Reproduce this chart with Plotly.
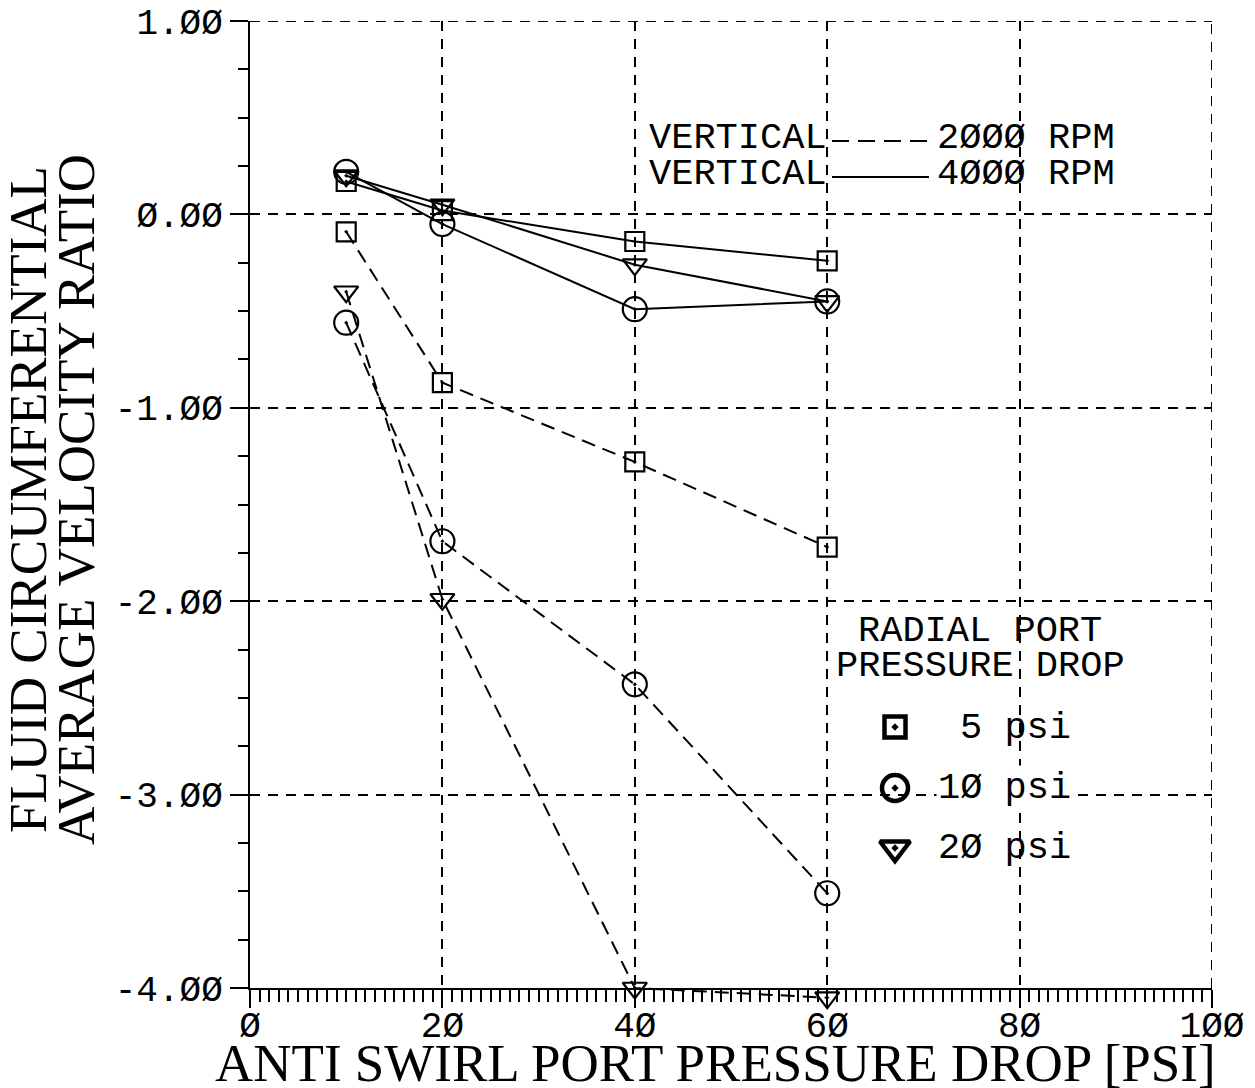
import plotly.graph_objects as go

# Anti-swirl port pressure drop [psi]
anti_swirl_psi = [10, 20, 40, 60]

# Fluid circumferential average velocity ratio, vertical rotor, 2000 RPM
v2000_5psi = [-0.09, -0.87, -1.28, -1.72]
v2000_10psi = [-0.56, -1.69, -2.43, -3.51]
v2000_20psi = [-0.40, -1.99, -4.00, -4.05]

# Same quantity at 4000 RPM
v4000_5psi = [0.17, 0.02, -0.14, -0.24]
v4000_10psi = [0.22, -0.05, -0.49, -0.45]
v4000_20psi = [0.20, 0.05, -0.26, -0.45]

# Axis ticks (plotter style slashed zeros)
x_tickvals = [0, 20, 40, 60, 80, 100]
x_ticktext = ["Ø", "2Ø", "4Ø", "6Ø", "8Ø", "1ØØ"]
y_tickvals = [-4, -3, -2, -1, 0, 1]
y_ticktext = ["-4.ØØ", "-3.ØØ", "-2.ØØ", "-1.ØØ", "Ø.ØØ", "1.ØØ"]
X_RANGE = [0, 100]
Y_RANGE = [-4, 1]

# Radial port pressure drop legend
radial_labels = ["5 psi", "1Ø psi", "2Ø psi"]

W, H = 1255, 1088
ML, MR, MT = 250, 43, 21
AXIS_BOTTOM = 988          # pixel row of the x axis line
SPILL = 20                 # room below the x axis for points just off-scale
MB = H - AXIS_BOTTOM - SPILL
PW, PH = W - ML - MR, H - MT - MB
MAIN_H = AXIS_BOTTOM - MT
d0 = SPILL / PH
unit_px = MAIN_H / (Y_RANGE[1] - Y_RANGE[0])
y_data_range = [Y_RANGE[0] - SPILL / unit_px, Y_RANGE[1]]


def px(p):
    return (p - ML) / PW


def py(p):
    return (H - MB - p) / PH


MONO = "Liberation Mono"
SERIF = "Liberation Serif"
DASH_GRID = "10px,8px"

fig = go.Figure()

sym = {
    "5": dict(symbol="square-open-dot", size=19),
    "10": dict(symbol="circle-open-dot", size=24),
    "20": dict(symbol="triangle-down-open-dot", size=21),
}

series = [
    (v2000_5psi, "5", "14px,8px"),
    (v2000_10psi, "10", "14px,8px"),
    (v2000_20psi, "20", "14px,8px"),
    (v4000_5psi, "5", "solid"),
    (v4000_10psi, "10", "solid"),
    (v4000_20psi, "20", "solid"),
]
for vals, key, dash in series:
    fig.add_trace(go.Scatter(
        x=anti_swirl_psi, y=vals, xaxis="x3", yaxis="y3", mode="lines+markers",
        line=dict(color="black", width=2, dash=dash),
        marker=dict(color="black", line=dict(color="black", width=2.2), **sym[key]),
        cliponaxis=False, showlegend=False, hoverinfo="skip",
    ))

# Legend keys on an overlay frame spanning the plot area
key_x = px(895)
key_ys = [py(727), py(788), py(848)]
key_syms = ["square-open-dot", "circle-open-dot", "triangle-down-open-dot"]
key_sizes = [21, 26, 26]
for yk, s, sz in zip(key_ys, key_syms, key_sizes):
    fig.add_trace(go.Scatter(
        x=[key_x], y=[yk], xaxis="x2", yaxis="y2", mode="markers",
        marker=dict(symbol=s, size=sz, color="black",
                    line=dict(color="black", width=4.5)),
        cliponaxis=False, showlegend=False, hoverinfo="skip",
    ))

grid = dict(showgrid=True, gridcolor="black", gridwidth=2, griddash=DASH_GRID,
            zeroline=False, showline=True, linecolor="black", linewidth=2,
            ticks="outside", tickcolor="black", tickwidth=2, ticklen=18,
            automargin=False,
            tickfont=dict(family=MONO, size=36, color="black"))

fig.update_layout(
    width=W, height=H, autosize=False,
    margin=dict(l=ML, r=MR, t=MT, b=MB, pad=0),
    paper_bgcolor="white", plot_bgcolor="rgba(0,0,0,0)",
    xaxis=dict(range=X_RANGE, tickmode="array", tickvals=x_tickvals,
               ticktext=x_ticktext, ticklabelstandoff=-14,
               minor=dict(dtick=1, ticks="outside", ticklen=12, tickwidth=1.5,
                          tickcolor="black", showgrid=False),
               **grid),
    yaxis=dict(range=Y_RANGE, domain=[d0, 1], tickmode="array",
               tickvals=y_tickvals, ticktext=y_ticktext,
               minor=dict(dtick=0.25, ticks="outside", ticklen=10, tickwidth=1.5,
                          tickcolor="black", showgrid=False),
               **grid),
    xaxis2=dict(overlaying="x", range=[0, 1], visible=False),
    yaxis2=dict(overlaying="y", range=[py(AXIS_BOTTOM), 1], visible=False),
    xaxis3=dict(domain=[0, 1], range=X_RANGE, anchor="y3", visible=False),
    yaxis3=dict(domain=[0, 1], range=y_data_range, anchor="x3", visible=False),
)

ann = []
TEXT_DY = 3   # mono text box sits slightly high relative to its caps


def text(x, y, s, anchor="left", size=37, family=MONO, dy=TEXT_DY, **kw):
    ann.append(dict(xref="paper", yref="paper", x=px(x), y=py(y + dy), text=s,
                    showarrow=False, xanchor=anchor, yanchor="middle",
                    font=dict(family=family, size=size, color="black"), **kw))


# Axis titles
text(28, 500, "FLUID CIRCUMFERENTIAL", anchor="center", size=53, family=SERIF,
     textangle=-90, dy=0)
text(76, 500, "AVERAGE VELOCITY RATIO", anchor="center", size=53, family=SERIF,
     textangle=-90, dy=0)
text(715, 1063, "ANTI SWIRL PORT PRESSURE DROP [PSI]", anchor="center", size=53,
     family=SERIF, dy=0)

# Speed legend
text(647, 135, "VERTICAL")
text(935, 135, "2ØØØ RPM")
text(647, 171, "VERTICAL")
text(935, 171, "4ØØØ RPM")

# Radial port legend
text(980, 628, "RADIAL PORT", anchor="center")
text(980, 663, "PRESSURE DROP", anchor="center")
text(958, 725, radial_labels[0])
text(936, 785, radial_labels[1], bgcolor="white")
text(936, 845, radial_labels[2])

fig.update_layout(annotations=ann)

# Speed legend line samples
fig.add_shape(type="line", xref="paper", yref="paper",
              x0=px(832), x1=px(929), y0=py(141), y1=py(141),
              line=dict(color="black", width=2, dash="17px,9px"))
fig.add_shape(type="line", xref="paper", yref="paper",
              x0=px(832), x1=px(929), y0=py(177), y1=py(177),
              line=dict(color="black", width=2))

# Dashed frame along the top and right edges of the grid
fig.add_shape(type="line", xref="x", yref="y", x0=X_RANGE[0], x1=X_RANGE[1],
              y0=Y_RANGE[1], y1=Y_RANGE[1],
              line=dict(color="black", width=2, dash=DASH_GRID))
fig.add_shape(type="line", xref="x", yref="y", x0=X_RANGE[1], x1=X_RANGE[1],
              y0=Y_RANGE[0], y1=Y_RANGE[1],
              line=dict(color="black", width=2, dash=DASH_GRID))

fig.write_html("out.html")
